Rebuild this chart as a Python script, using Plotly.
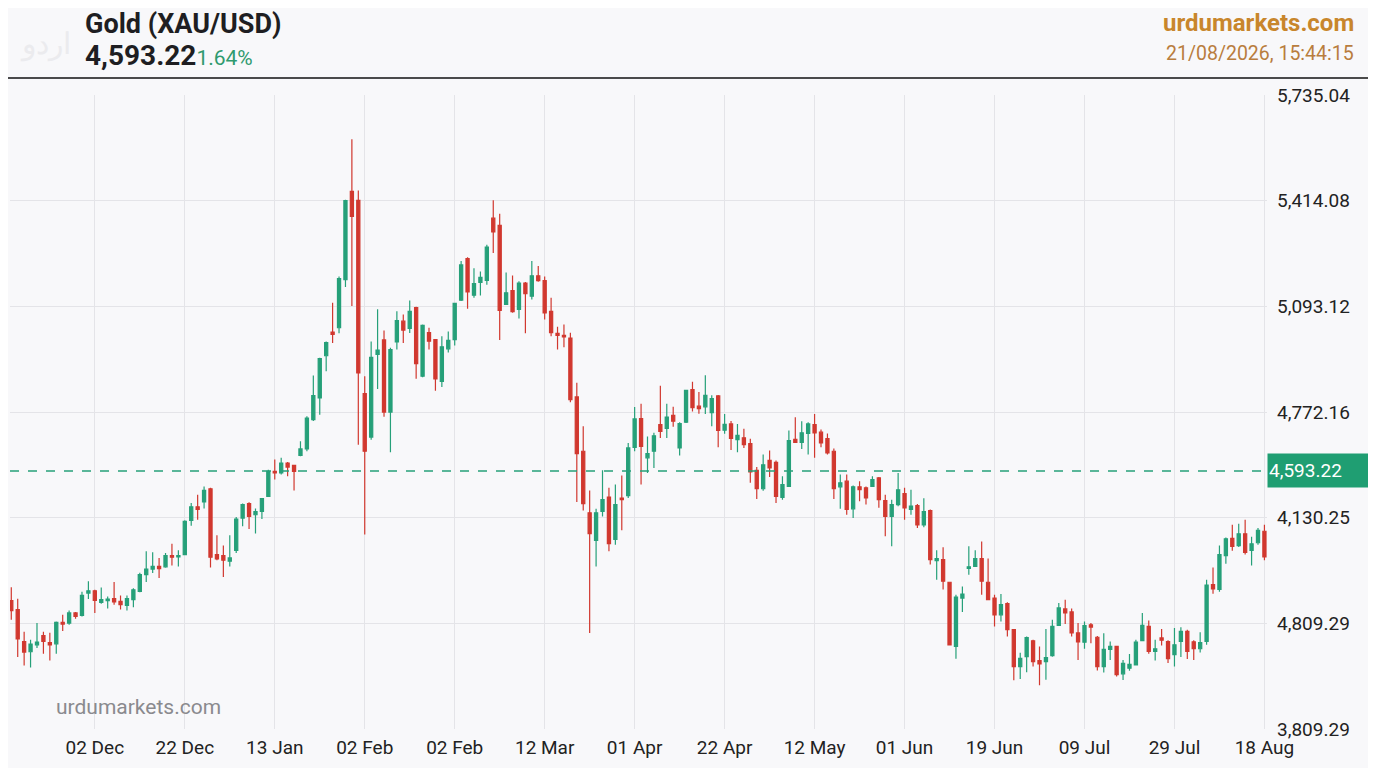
import plotly.graph_objects as go
import numpy as np

# ---------------- data ----------------
opens = [4199,4172,4075,4044,4065,4093,4072,4068,4133,4131,4162,4154,4222,4229,4194,4199,4205,4197,4185,4202,
         4227,4278,4295,4303,4302,4336,4332,4339,4443,4484,4499,4539,4339,4336,4319,4352,4450,4494,4460,4470,
         4516,4592,4587,4617,4610,4640,4660,4749,4815,4943,5015,5028,5174,5442,5415,4828,4696,4947,4991,4772,
         4985,5048,5026,5089,4881,5013,4992,4865,4964,4992,5112,5238,5127,5166,5172,5361,5339,5099,5141,5084,
         5164,5124,5186,5171,5078,5011,5005,4997,4818,4653,4466,4382,4470,4514,4385,4511,4518,4665,4752,4633,
         4653,4734,4722,4762,4663,4741,4840,4790,4788,4770,4821,4717,4736,4688,4694,4676,4595,4539,4625,4619,
         4513,4546,4689,4680,4707,4734,4711,4691,4653,4545,4562,4478,4545,4542,4546,4572,4503,4455,4491,4524,
         4476,4488,4429,4473,4321,4324,4255,4060,4207,4297,4303,4327,4255,4207,4156,4190,4111,3999,4029,4077,
         4017,4014,4032,4124,4174,4165,4101,4073,4126,4088,3999,4051,4060,3977,3994,4004,4078,4121,4045,4086,
         4075,4035,4075,4106,4074,4053,4075,4248,4233,4336,4388,4366,4402,4352,4375,4410]
highs = [4240,4205,4105,4080,4131,4105,4102,4136,4156,4169,4165,4226,4258,4232,4239,4212,4256,4215,4215,4237,
         4284,4349,4346,4329,4344,4372,4352,4443,4496,4521,4546,4542,4398,4367,4398,4453,4494,4498,4479,4511,
         4597,4628,4633,4620,4612,4683,4759,4883,4937,4986,5104,5184,5417,5601,5445,4881,4986,5084,5020,4967,
         5078,5068,5111,5092,5038,5028,4994,5002,5017,5104,5231,5242,5209,5199,5280,5415,5374,5196,5187,5169,
         5167,5231,5216,5184,5119,5031,5038,5013,4861,4729,4534,4478,4595,4542,4552,4579,4678,4787,4797,4698,
         4709,4852,4797,4788,4741,4840,4864,4833,4884,4823,4824,4766,4745,4736,4721,4691,4605,4643,4655,4625,
         4577,4716,4756,4744,4741,4766,4719,4707,4661,4582,4582,4549,4562,4546,4577,4575,4521,4506,4587,4542,
         4536,4493,4510,4476,4352,4361,4256,4217,4242,4364,4352,4379,4327,4217,4219,4194,4113,4041,4090,4080,
         4060,4113,4141,4192,4202,4175,4131,4136,4131,4092,4100,4075,4062,4019,4037,4080,4162,4139,4080,4113,
         4079,4116,4118,4111,4079,4103,4263,4300,4367,4391,4430,4433,4445,4393,4420,4430]
lows = [4141,4028,4002,3996,4055,4038,4017,4038,4107,4126,4144,4151,4204,4162,4190,4175,4187,4172,4169,4179,
        4225,4256,4283,4268,4299,4306,4303,4337,4427,4445,4479,4300,4322,4271,4303,4344,4425,4417,4403,4447,
        4516,4567,4582,4577,4534,4638,4653,4745,4764,4896,4982,5011,5152,5094,4673,4400,4688,4842,4758,4650,
        4962,4982,5012,4873,4878,4962,4837,4848,4953,4974,5109,5086,5119,5126,5159,5255,4991,5097,5074,5056,
        5011,5114,5168,5053,5002,4962,4969,4802,4499,4473,4101,4303,4455,4349,4369,4413,4511,4653,4552,4587,
        4602,4693,4693,4727,4640,4739,4774,4767,4766,4729,4665,4706,4657,4650,4663,4557,4508,4533,4575,4496,
        4506,4544,4678,4660,4643,4633,4665,4643,4508,4478,4460,4450,4501,4491,4544,4481,4395,4364,4486,4445,
        4460,4420,4422,4309,4263,4233,4063,4023,4165,4278,4302,4217,4200,4121,4136,4090,3957,3961,3982,3999,
        3942,3959,4029,4122,4128,4090,4019,4053,4070,3987,3981,4019,3969,3958,3986,4002,4076,4038,4017,4063,
        4010,3999,4028,4022,4019,4042,4065,4220,4226,4311,4351,4362,4339,4306,4369,4322]
closes = [4169,4083,4043,4067,4073,4075,4065,4133,4128,4162,4151,4215,4229,4200,4202,4204,4195,4187,4205,4232,
          4278,4295,4303,4296,4336,4331,4336,4440,4484,4476,4534,4331,4326,4322,4329,4447,4491,4455,4470,4509,
          4592,4587,4617,4605,4592,4660,4754,4822,4934,4983,5008,5177,5414,5366,4891,4653,4938,4960,4772,4962,
          5050,5021,5078,4919,5035,4987,4873,4970,4990,5102,5219,5137,5162,5181,5273,5319,5081,5134,5077,5164,
          5132,5186,5171,5073,5013,5005,5000,4810,4646,4494,4403,4466,4506,4372,4491,4506,4663,4751,4668,4646,
          4700,4713,4757,4744,4737,4838,4785,4782,4823,4813,4716,4735,4692,4701,4673,4590,4539,4612,4602,4516,
          4552,4685,4680,4709,4736,4709,4678,4648,4539,4557,4476,4545,4536,4511,4567,4506,4455,4491,4536,4481,
          4486,4429,4470,4324,4327,4258,4065,4210,4219,4302,4327,4258,4202,4156,4187,4111,3999,4024,4087,4014,
          4007,4026,4121,4177,4162,4101,4074,4123,4119,3999,4051,4060,3974,4009,4006,4073,4124,4045,4053,4079,
          4023,4065,4106,4045,4053,4072,4246,4235,4339,4387,4364,4402,4346,4372,4413,4332]

date_labels = ["02 Dec", "22 Dec", "13 Jan", "02 Feb", "02 Feb", "12 Mar", "01 Apr",
               "22 Apr", "12 May", "01 Jun", "19 Jun", "09 Jul", "29 Jul", "18 Aug"]
price_tick_labels = ["5,735.04", "5,414.08", "5,093.12", "4,772.16", "4,130.25", "4,809.29", "3,809.29"]
y_min, y_max = 3809.28, 5735.04
last_price = 4593.22
change_pct = "1.64%"

# ---------------- figure ----------------
UP = "#26a079"
DOWN = "#d1382f"
GRID = "#e4e4e8"
BG = "#f8f8fa"

n = len(opens)
idx = list(range(1, n + 1))
tick_step = n // len(date_labels)
tickvals_x = list(range(tick_step, n + 1, tick_step))
tickvals_y = list(np.linspace(y_max, y_min, len(price_tick_labels)))

fig = go.Figure(go.Candlestick(
    x=idx, open=opens, high=highs, low=lows, close=closes,
    increasing=dict(line=dict(color=UP, width=1.2), fillcolor=UP),
    decreasing=dict(line=dict(color=DOWN, width=1.2), fillcolor=DOWN),
    whiskerwidth=0, hoverinfo="skip",
))

# page has an 8px body margin; figure placed at (8, 8)
OFF = 8
W, H = 1368, 760
ML, MR, MT, MB = 10 - OFF, 109, 95 - OFF, 39
pw, ph = W - ML - MR, H - MT - MB

def px(xp):  # screen x -> paper
    return (xp - OFF - ML) / pw

def py(yp):  # screen y -> paper
    return (H - MB - (yp - OFF)) / ph

fig.update_layout(
    width=W, height=H,
    margin=dict(l=ML, r=MR, t=MT, b=MB, pad=0),
    paper_bgcolor=BG, plot_bgcolor=BG,
    showlegend=False,
    font=dict(family="Roboto", color="#1e1e22"),
    xaxis=dict(
        range=[0.8, n + 0.4], rangeslider=dict(visible=False),
        tickmode="array", tickvals=tickvals_x, ticktext=date_labels,
        showgrid=True, gridcolor=GRID, gridwidth=1, zeroline=False,
        showline=False, ticks="", tickfont=dict(size=19, color="#222"),
        ticklabelstandoff=5,
    ),
    yaxis=dict(
        side="right", range=[y_min, y_max],
        tickmode="array", tickvals=tickvals_y, ticktext=price_tick_labels,
        showgrid=True, gridcolor=GRID, gridwidth=1, zeroline=False,
        showline=False, ticks="", tickfont=dict(size=19, color="#222"),
        ticklabelstandoff=9,
    ),
)

# current price dashed line
fig.add_shape(type="line", xref="paper", yref="y", x0=0, x1=1,
              y0=last_price, y1=last_price,
              line=dict(color=UP, width=1.5, dash="dash"))
# price label box
fig.add_annotation(xref="paper", yref="y", x=px(1267), y=last_price,
                   xanchor="left", yanchor="middle", text=f"{last_price:,.2f}",
                   showarrow=False, bgcolor="#1f9e72", width=104, height=31,
                   borderpad=1, align="left",
                   font=dict(size=19, color="white", family="Roboto"))

# header separator
fig.add_shape(type="line", xref="paper", yref="paper",
              x0=px(0), x1=px(1376), y0=py(78), y1=py(78),
              line=dict(color="#111", width=1.5))

# header texts
fig.add_annotation(xref="paper", yref="paper", x=px(83), y=py(24), xanchor="left", yanchor="middle",
                   text="<b>Gold (XAU/USD)</b>", showarrow=False,
                   font=dict(size=27, color="#1e1e22", family="Roboto"))
fig.add_annotation(xref="paper", yref="paper", x=px(83), y=py(56), xanchor="left", yanchor="middle",
                   text=f"<b>{last_price:,.2f}</b><span style='color:#2f9a6e;font-size:21px'>{change_pct}</span>",
                   showarrow=False, font=dict(size=28, color="#1e1e22", family="Roboto"))
fig.add_annotation(xref="paper", yref="paper", x=px(1356), y=py(23), xanchor="right", yanchor="middle",
                   text="<b>urdumarkets.com</b>", showarrow=False,
                   font=dict(size=24, color="#c8862c", family="Roboto"))
fig.add_annotation(xref="paper", yref="paper", x=px(1356), y=py(54), xanchor="right", yanchor="middle",
                   text="21/08/2026, 15:44:15", showarrow=False,
                   font=dict(size=19.5, color="#b97d3e", family="Roboto"))
# faint logo
fig.add_annotation(xref="paper", yref="paper", x=px(45), y=py(42), xanchor="center", yanchor="middle",
                   text="اردو", showarrow=False,
                   font=dict(size=30, color="#ebebee", family="Noto Sans"))
# watermark
fig.add_annotation(xref="paper", yref="paper", x=px(54), y=py(707), xanchor="left", yanchor="middle",
                   text="urdumarkets.com", showarrow=False,
                   font=dict(size=21, color="#8a8a8e", family="Roboto"))

fig.write_html("out.html")
